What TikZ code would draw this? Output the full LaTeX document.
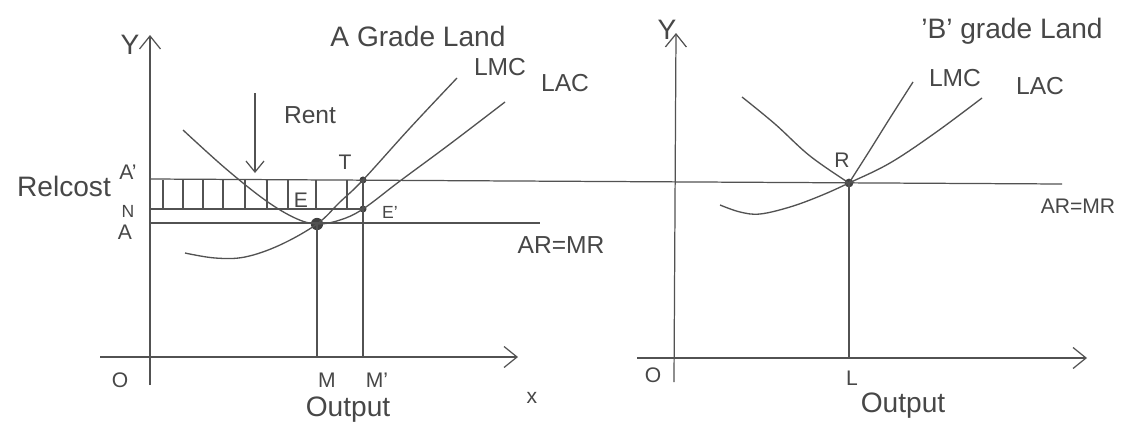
\documentclass[tikz,border=0pt]{standalone}
\usepackage{fontspec}
\setmainfont{Liberation Sans}
\usetikzlibrary{arrows.meta}
\begin{document}
\begin{tikzpicture}[x=0.2mm,y=-0.2mm,
  ink/.style={draw=black!68, line width=0.7pt},
  axisarrow/.style={ink, -{Straight Barb[length=2.6mm,width=4.2mm,line width=0.7pt]}},
  curve/.style={ink, line width=0.75pt},
  lbl/.style={text=black!72, inner sep=0pt, font=\fontsize{12}{14}\selectfont},
  big/.style={lbl, font=\fontsize{16}{19}\selectfont},
  mid/.style={lbl, font=\fontsize{14}{16}\selectfont},
  small/.style={lbl, font=\fontsize{10}{12}\selectfont},
  dotpt/.style={fill=black!75, circle, inner sep=0pt, minimum size=#1}]
\useasboundingbox[fill=white] (0,0) rectangle (1128,432);

% ---------- left panel: A grade land ----------
\coordinate (Ybot1) at (150,385);
\coordinate (Ytop1) at (150,35);
\coordinate (Xl1) at (100,357);
\coordinate (Xr1) at (518,357);
\coordinate (Ap) at (150,179);
\coordinate (Nn) at (150,209);
\coordinate (Aa) at (150,223);
\coordinate (Aend) at (540,223);
\coordinate (Rend) at (1062,184);
\coordinate (M) at (317,357);
\coordinate (Mp) at (363,357);
\coordinate (L) at (849,358);

\draw[axisarrow] (Ybot1) -- (Ytop1);
\draw[axisarrow] (Xl1) -- (Xr1);

\node[dotpt=7pt] (E) at (317,224) {};
\node[dotpt=4pt] (T) at (363,180) {};
\node[dotpt=4pt] (Ep) at (363,209) {};
\node[dotpt=5pt] (R) at (849,183) {};

% horizontal lines
\draw[ink] (Ap) -- (Rend);
\draw[ink] (Nn) -- (Ep.center);
\draw[ink] (Aa) -- (Aend);

% hatching (rent)
\foreach \hx in {163,183,203,223,245,267,288,316,347}
  \draw[ink, line width=0.6pt] (\hx,180) -- (\hx,209);

% verticals
\draw[ink] (E.center) -- (M);
\draw[ink] (T.center) -- (Mp);

% LAC (U-shaped) left
\draw[curve] plot[smooth, tension=0.6] coordinates {(183,130) (225,168) (265,200) (295,218) (317,224) (340,220) (363,209) (400,181) (450,144) (505,102)};
% LMC left
\draw[curve] plot[smooth, tension=0.6] coordinates {(185,253) (215,258) (245,257) (280,245) (317,224) (340,202) (363,180) (410,128) (457,78)};

% Rent arrow
\coordinate (RentTop) at (255,93);
\coordinate (RentTip) at (255,173);
\draw[ink, -{Straight Barb[length=2.2mm,width=3.6mm,line width=0.7pt]}] (RentTop) -- (RentTip);

% left labels
\node[big] (lY1) at (130,45) {Y};
\node[lbl] (lx1) at (532,398) {x};
\node[lbl] (lO1) at (120,380) {O};
\node[lbl] (lM) at (327,380) {M};
\node[lbl] (lMp) at (377,380) {M{'}};
\node[big] (lOut1) at (348,410) {Output};
\node[big] (lRe) at (64,186) {Relcost};
\node[lbl] (lAp) at (128,172) {A{'}};
\node[small] (lN) at (128,211) {N};
\node[lbl] (lA) at (125,232) {A};
\node[lbl] (lE) at (301,200) {E};
\node[small] (lEp) at (390,212) {E{'}};
\node[lbl] (lT) at (345,162) {T};
\node[mid] (lRent) at (310,115) {Rent};
\node[big] (lTitle1) at (418,36) {A Grade Land};
\node[mid] (lLMC1) at (500,67) {LMC};
\node[mid] (lLAC1) at (565,83) {LAC};
\node[mid] (lAR1) at (561,245) {AR=MR};

% ---------- right panel: B grade land ----------
\coordinate (Ybot2) at (674,382);
\coordinate (Ytop2) at (676,33);
\coordinate (Xl2) at (637,358);
\coordinate (Xr2) at (1087,358);
\draw[axisarrow] (Ybot2) -- (Ytop2);
\draw[axisarrow] (Xl2) -- (Xr2);

\draw[ink] (R.center) -- (L);

% U curve into R, then steep LMC
\draw[curve] plot[smooth, tension=0.6] coordinates {(742,97) (775,124) (810,156) (849,183)};
\draw[curve] plot[smooth, tension=0.6] coordinates {(849,183) (870,150) (890,118) (913,82)};
% lower curve rising through R (LAC)
\draw[curve] plot[smooth, tension=0.6] coordinates {(720,205) (740,212) (760,214) (790,207) (820,196) (849,183) (890,163) (935,133) (982,98)};

\node[big] (lY2) at (667,30) {Y};
\node[lbl] (lO2) at (653,375) {O};
\node[lbl] (lL) at (852,378) {L};
\node[big] (lOut2) at (903,406) {Output};
\node[lbl] (lR) at (842,160) {R};
\node[big] (lTitle2) at (1012,31) {{'}B{'} grade Land};
\node[mid] (lLMC2) at (955,78) {LMC};
\node[mid] (lLAC2) at (1040,86) {LAC};
\node[lbl] (lAR2) at (1078,206) {AR=MR};
\end{tikzpicture}
\end{document}
